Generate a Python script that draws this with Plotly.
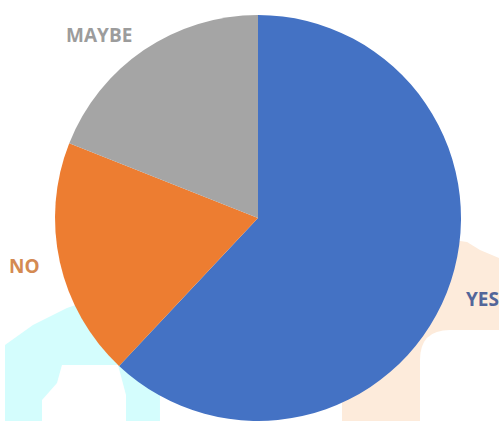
import math
import plotly.graph_objects as go

# Survey answers, shares in percent
categories = ["YES", "NO", "MAYBE"]
shares = [62, 19, 19]
slice_colors = ["#4472C4", "#ED7D31", "#A5A5A5"]
label_colors = ["#52669A", "#D48A52", "#9C9C9C"]

W, H = 499, 421
CX, CY, R = 258, 218, 203  # pie centre and radius in pixels


def px(x):
    return x / W


def py(y):
    return 1 - y / H


def path(points):
    return "M " + " L ".join(f"{px(x):.4f},{py(y):.4f}" for x, y in points) + " Z"


fig = go.Figure(
    go.Pie(
        labels=categories,
        values=shares,
        sort=False,
        direction="clockwise",
        rotation=0,
        marker=dict(colors=slice_colors, line=dict(width=0)),
        textinfo="none",
        hoverinfo="label+percent",
        showlegend=False,
        domain=dict(x=[px(CX - R), px(CX + R)], y=[py(CY + R), py(CY - R)]),
    )
)

# Category labels placed just outside each slice, at its mid-angle
total = sum(shares)
start = 0.0
for name, val, col in zip(categories, shares, label_colors):
    span = 360.0 * val / total
    mid = math.radians(start + span / 2)
    start += span
    r = R * 1.09
    lx = CX + r * math.sin(mid)
    ly = CY - r * math.cos(mid)
    fig.add_annotation(
        x=px(lx), y=py(ly), xref="paper", yref="paper",
        text=f"<b>{name}</b>", showarrow=False,
        xanchor="left" if math.sin(mid) > 0 else "right",
        yanchor="middle",
        font=dict(family="Open Sans", size=19, color=col),
    )

# Faint background blots behind the pie
shapes = [
    dict(path=path([(5, 421), (5, 345), (33, 325), (67, 308), (90, 300), (160, 330), (160, 421)]),
         fillcolor="#D4FDFD"),
    dict(path=path([(42, 421), (42, 400), (57, 383), (62, 365), (118, 365), (126, 395), (126, 421)]),
         fillcolor="#FFFFFF"),
    dict(path=path([(440, 238), (467, 242), (480, 250), (499, 258), (499, 421), (342, 421), (342, 400), (420, 300)]),
         fillcolor="#FDEBDB"),
    dict(path=f"M {px(420):.4f},{py(421):.4f} L {px(420):.4f},{py(360):.4f} "
              f"Q {px(420):.4f},{py(330):.4f} {px(450):.4f},{py(330):.4f} "
              f"L {px(499):.4f},{py(330):.4f} L {px(499):.4f},{py(421):.4f} Z",
         fillcolor="#FFFFFF"),
]
for s in shapes:
    fig.add_shape(type="path", xref="paper", yref="paper", layer="below",
                  line=dict(width=0), **s)

fig.update_layout(
    width=W, height=H,
    margin=dict(l=0, r=0, t=0, b=0),
    paper_bgcolor="white",
    plot_bgcolor="white",
)

fig.write_html("out.html")
